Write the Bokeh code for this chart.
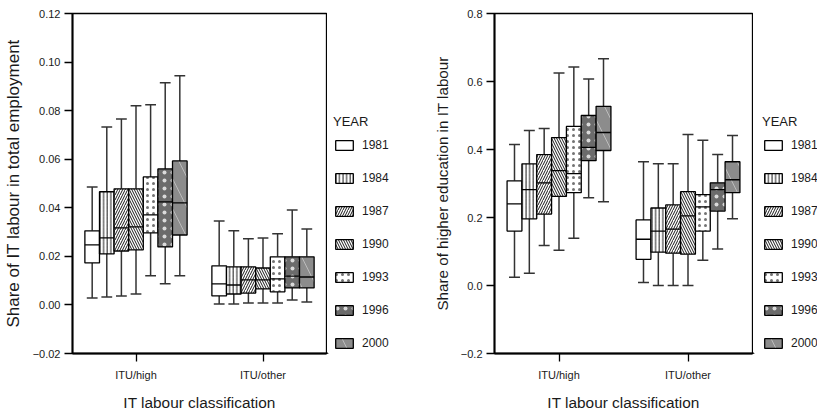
from bokeh.plotting import figure
from bokeh.models import (ColumnDataSource, FactorRange, Range1d, Legend, LegendItem,
                          FixedTicker, NumeralTickFormatter)
from bokeh.transform import dodge
from bokeh.layouts import row
from bokeh.embed import file_html
from bokeh.resources import INLINE

# ---------------- data ----------------
categories = ["ITU/high", "ITU/other"]
years = ["1981", "1984", "1987", "1990", "1993", "1996", "2000"]

# Share of IT labour in total employment
emp_high_lo = [0.0029, 0.0033, 0.0037, 0.0045, 0.0120, 0.0087, 0.0120]
emp_high_q1 = [0.0173, 0.0210, 0.0222, 0.0227, 0.0297, 0.0239, 0.0288]
emp_high_med = [0.0247, 0.0276, 0.0317, 0.0321, 0.0371, 0.0424, 0.0420]
emp_high_q3 = [0.0305, 0.0466, 0.0478, 0.0478, 0.0527, 0.0560, 0.0593]
emp_high_hi = [0.0486, 0.0733, 0.0766, 0.0820, 0.0824, 0.0915, 0.0944]

emp_other_lo = [0.0004, 0.0004, 0.0008, 0.0008, 0.0008, 0.0020, 0.0012]
emp_other_q1 = [0.0037, 0.0045, 0.0049, 0.0066, 0.0054, 0.0070, 0.0070]
emp_other_med = [0.0087, 0.0082, 0.0103, 0.0103, 0.0107, 0.0119, 0.0115]
emp_other_q3 = [0.0161, 0.0157, 0.0157, 0.0152, 0.0198, 0.0198, 0.0198]
emp_other_hi = [0.0346, 0.0305, 0.0272, 0.0276, 0.0293, 0.0391, 0.0313]

# Share of higher education in IT labour
edu_high_lo = [0.024, 0.036, 0.118, 0.104, 0.139, 0.258, 0.246]
edu_high_q1 = [0.160, 0.196, 0.210, 0.262, 0.273, 0.367, 0.397]
edu_high_med = [0.240, 0.282, 0.302, 0.338, 0.329, 0.406, 0.450]
edu_high_q3 = [0.308, 0.358, 0.385, 0.435, 0.468, 0.500, 0.527]
edu_high_hi = [0.415, 0.456, 0.462, 0.625, 0.643, 0.607, 0.667]

edu_other_lo = [0.009, 0.000, 0.000, 0.000, 0.074, 0.107, 0.196]
edu_other_q1 = [0.077, 0.098, 0.095, 0.092, 0.160, 0.219, 0.273]
edu_other_med = [0.136, 0.160, 0.166, 0.205, 0.231, 0.282, 0.311]
edu_other_q3 = [0.193, 0.228, 0.237, 0.276, 0.267, 0.302, 0.364]
edu_other_hi = [0.364, 0.358, 0.358, 0.444, 0.427, 0.385, 0.441]

emp_ticks = [-0.02, 0.0, 0.02, 0.04, 0.06, 0.08, 0.10, 0.12]
edu_ticks = [-0.2, 0.0, 0.2, 0.4, 0.6, 0.8]

# ---------------- styles ----------------
STY = {
    "1981": dict(fill_color="white"),
    "1984": dict(fill_color="white", hatch_pattern="vertical_line", hatch_color="black", hatch_scale=3.6, hatch_weight=0.9),
    "1987": dict(fill_color="white", hatch_pattern="right_diagonal_line", hatch_color="black", hatch_scale=5, hatch_weight=0.9),
    "1990": dict(fill_color="white", hatch_pattern="left_diagonal_line", hatch_color="black", hatch_scale=5, hatch_weight=0.9),
    "1993": dict(fill_color="white", hatch_pattern="dot", hatch_color="black", hatch_scale=6, hatch_alpha=0.55),
    "1996": dict(fill_color="#6b6b6b", hatch_pattern="dot", hatch_color="white", hatch_scale=8, hatch_alpha=0.75),
    "2000": dict(fill_color="#8c8c8c", hatch_pattern="left_diagonal_line", hatch_color="#c8c8c8", hatch_scale=30, hatch_weight=0.8),
}
FONT = "Liberation Sans"
BW = 0.115   # box width (in category units)
CW = 0.085   # whisker cap width
TXT = "#1a1a1a"


def make_panel(stats_high, stats_low, ticks, fmt, neg_label, ylabel, ylabel_size,
               width, border_left):
    p = figure(width=width, height=413, x_range=FactorRange(*categories),
               y_range=Range1d(ticks[0], ticks[-1]), output_backend="svg",
               toolbar_location=None, min_border_left=border_left,
               min_border_right=1, min_border_top=13, min_border_bottom=60)
    for j, yr in enumerate(years):
        src = ColumnDataSource(dict(
            cat=categories,
            lo=[stats_high[0][j], stats_low[0][j]],
            q1=[stats_high[1][j], stats_low[1][j]],
            med=[stats_high[2][j], stats_low[2][j]],
            q3=[stats_high[3][j], stats_low[3][j]],
            hi=[stats_high[4][j], stats_low[4][j]],
        ))
        off = (j - 3) * BW
        xc = dodge("cat", off, range=p.x_range)
        xl = dodge("cat", off - CW / 2, range=p.x_range)
        xr = dodge("cat", off + CW / 2, range=p.x_range)
        xbl = dodge("cat", off - BW / 2, range=p.x_range)
        xbr = dodge("cat", off + BW / 2, range=p.x_range)
        wk = dict(line_color="#333333", line_width=1.5)
        p.segment(x0=xc, x1=xc, y0="q3", y1="hi", source=src, **wk)
        p.segment(x0=xc, x1=xc, y0="q1", y1="lo", source=src, **wk)
        p.segment(x0=xl, x1=xr, y0="hi", y1="hi", source=src, **wk)
        p.segment(x0=xl, x1=xr, y0="lo", y1="lo", source=src, **wk)
        p.vbar(x=xc, width=BW, top="q3", bottom="q1", source=src,
               line_color="black", line_width=1.3, **STY[yr])
        p.segment(x0=xbl, x1=xbr, y0="med", y1="med", source=src,
                  line_color="black", line_width=1.3)

    p.xgrid.visible = False
    p.ygrid.visible = False
    p.outline_line_color = "black"
    p.outline_line_width = 1.3
    for ax in (p.xaxis[0], p.yaxis[0]):
        ax.axis_line_width = 2
        ax.axis_line_color = "black"
        ax.major_tick_out = 8
        ax.major_tick_in = 0
        ax.major_tick_line_color = "black"
        ax.major_tick_line_width = 1.3
        ax.minor_tick_line_color = None
        ax.major_label_text_font = FONT
        ax.major_label_text_font_size = "11px"
        ax.major_label_text_color = TXT
        ax.axis_label_text_font = FONT
        ax.axis_label_text_font_style = "normal"
        ax.axis_label_text_color = TXT
    p.xaxis.axis_label = "IT labour classification"
    p.xaxis.axis_label_text_font_size = "15.4px"
    p.xaxis.major_label_standoff = 7
    p.xaxis.axis_label_standoff = 10
    p.yaxis.axis_label = ylabel
    p.yaxis.axis_label_text_font_size = ylabel_size
    p.yaxis.ticker = FixedTicker(ticks=ticks)
    p.yaxis.formatter = NumeralTickFormatter(format=fmt)
    p.yaxis.major_label_overrides = {ticks[0]: neg_label}
    p.yaxis.major_label_standoff = 4
    p.yaxis.axis_label_standoff = 7
    return p


def make_legend(width, dx):
    # legend-only panel; its frame is aligned with the neighbouring plot frame
    q = figure(width=width, height=413, x_range=Range1d(0, 1), y_range=Range1d(0, 1),
               output_backend="svg", toolbar_location=None, min_border=0,
               x_axis_location=None, y_axis_location=None, outline_line_color=None)
    q.grid.visible = False
    items = []
    for yr in years:
        # swatch glyph kept far outside the visible range; only its legend entry shows
        r = q.vbar(x=[-100], top=[-100], bottom=[-101], width=0.1, line_color="black",
                   line_width=1.3, **STY[yr])
        items.append(LegendItem(label=yr, renderers=[r]))
    legend = Legend(items=items, title="YEAR", location=(dx, 3),
                    glyph_width=22, glyph_height=12, label_height=12, spacing=19,
                    label_standoff=7, padding=0, margin=0,
                    border_line_color=None, background_fill_alpha=0,
                    title_text_font=FONT, title_text_font_size="13px",
                    title_text_font_style="normal", title_standoff=9,
                    label_text_font=FONT, label_text_font_size="12px",
                    label_text_color=TXT, title_text_color=TXT)
    q.add_layout(legend)
    return q


left = make_panel(
    [emp_high_lo, emp_high_q1, emp_high_med, emp_high_q3, emp_high_hi],
    [emp_other_lo, emp_other_q1, emp_other_med, emp_other_q3, emp_other_hi],
    emp_ticks, "0.00", "\u22120.02", "Share of IT labour in total employment", "17px",
    width=327, border_left=71)
left_leg = make_legend(81, 6)

right = make_panel(
    [edu_high_lo, edu_high_q1, edu_high_med, edu_high_q3, edu_high_hi],
    [edu_other_lo, edu_other_q1, edu_other_med, edu_other_q3, edu_other_hi],
    edu_ticks, "0.0", "\u22120.2", "Share of higher education in IT labour", "15.2px",
    width=345, border_left=86)
right_leg = make_legend(64, 9)

layout = row(left, left_leg, right, right_leg, spacing=0)
open("out.html", "w").write(file_html(layout, INLINE))
